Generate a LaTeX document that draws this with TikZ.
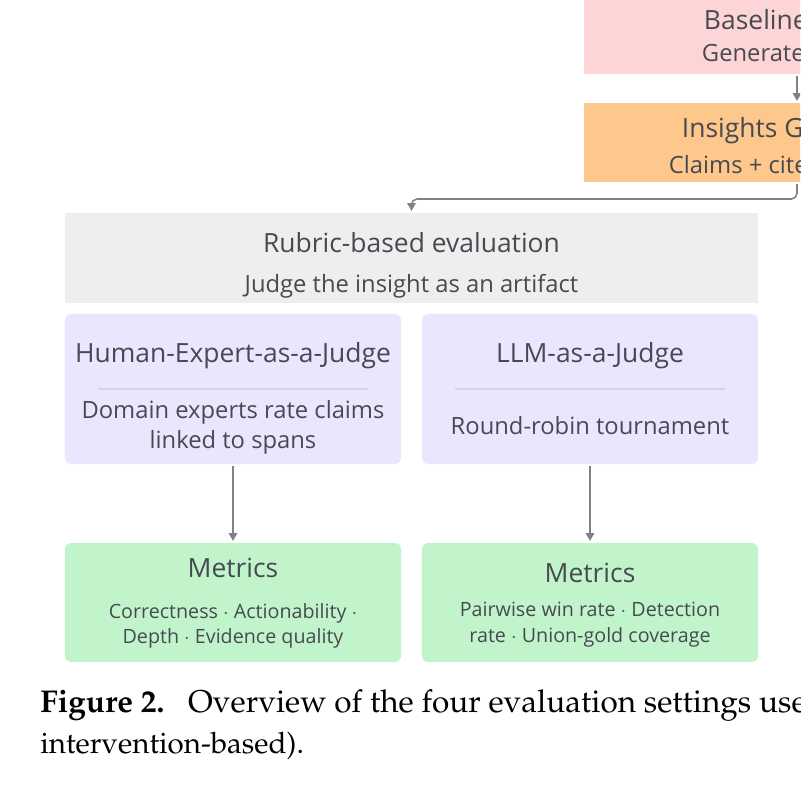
\documentclass[tikz,border=0pt]{standalone}
\usepackage[T1,TU]{fontenc}
\usepackage{fontspec}
\setmainfont{Open Sans}
\usetikzlibrary{positioning,arrows.meta,calc}
\definecolor{ink}{HTML}{464A51}
\definecolor{wire}{HTML}{7E8189}
\definecolor{pinkLite}{HTML}{FDD5D6}
\definecolor{orangeLite}{HTML}{FEC78B}
\definecolor{greyLite}{HTML}{EEEEEE}
\definecolor{lilacLite}{HTML}{EAE6FD}
\definecolor{mintLite}{HTML}{C2F4CB}
\definecolor{rule}{HTML}{D6D4E0}
\newcommand{\capfont}{\fontencoding{T1}\fontfamily{ppl}\selectfont}

\begin{document}
\begin{tikzpicture}[x=0.025cm,y=-0.025cm,
    panel/.style={inner sep=0pt,outer sep=1.5pt,draw=none},
    card/.style={panel,rounded corners=4pt,minimum width=8.4cm},
    ttl/.style={text=ink,font=\fontsize{18.8}{22}\selectfont},
    sub/.style={text=ink,font=\fontsize{16.9}{21.3}\selectfont,align=center},
    small/.style={text=ink,font=\fontsize{14}{18.3}\selectfont,align=center},
    arr/.style={draw=wire,line width=1.1pt,-{Triangle[length=5.5pt,width=6pt]}},
    sep/.style={draw=rule,line width=1pt}]
    \useasboundingbox (0,0) rectangle (800,800);
    \clip (0,0) rectangle (800,800);
    % top pipeline
    \node[panel,fill=pinkLite,minimum width=10.65cm,minimum height=2.35cm] (base) at (797,27) {};
    \node[panel,fill=orangeLite,minimum width=10.65cm,minimum height=1.975cm] (ins) at (797,142.5) {};
    \node[ttl,anchor=west] at (699,20) {Baseline};
    \node[sub,anchor=west] at (697,53) {Generate};
    \node[ttl,anchor=west] at (677,131) {Insights G};
    \node[sub,anchor=west] at (664,165) {Claims + cite};
    \draw[arr] (base) -- (ins);
    % rubric block
    \node[panel,fill=greyLite,minimum width=17.325cm,minimum height=2.25cm] (rub) at (411.5,258) {};
    \node[ttl] at ($(rub.center)+(0,-15)$) {Rubric-based evaluation};
    \node[sub] at ($(rub.center)+(0,28)$) {Judge the insight as an artifact};
    \coordinate (turn) at (411.5,199);
    \draw[arr,rounded corners=4pt] (ins.south) |- (turn) -- (rub.north);
    % judges
    \node[card,fill=lilacLite,minimum height=3.75cm] (hum) at (233,389) {};
    \node[card,fill=lilacLite,minimum height=3.75cm] (llm) at (590,389) {};
    \draw[sep] ($(hum.west)+(35,0)$) -- ($(hum.east)+(-35,0)$);
    \draw[sep] ($(llm.west)+(35,0)$) -- ($(llm.east)+(-35,0)$);
    \node[ttl] at ($(hum.center)+(0,-33)$) {Human-Expert-as-a-Judge};
    \node[sub] at ($(hum.center)+(0,38)$) {Domain experts rate claims\\linked to spans};
    \node[ttl] at ($(llm.center)+(0,-33)$) {LLM-as-a-Judge};
    \node[sub] at ($(llm.center)+(0,37)$) {Round-robin tournament};
    % metrics
    \node[card,fill=mintLite,minimum height=2.975cm] (metH) at (233,602.5) {};
    \node[card,fill=mintLite,minimum height=2.975cm] (metL) at (590,602.5) {};
    \node[ttl] at ($(metH.center)+(0,-35)$) {Metrics};
    \node[small] at ($(metH.center)+(0,23.5)$) {Correctness $\cdot$ Actionability $\cdot$\\Depth $\cdot$ Evidence quality};
    \node[ttl] at ($(metL.center)+(0,-30)$) {Metrics};
    \node[small] at ($(metL.center)+(0,22.5)$) {Pairwise win rate $\cdot$ Detection\\rate $\cdot$ Union-gold coverage};
    \draw[arr] (hum) -- (metH);
    \draw[arr] (llm) -- (metL);
    % caption
    \node[anchor=base west,inner sep=0pt,font=\capfont\fontsize{22.4}{29.5}\selectfont] (cap) at (40,712)
      {\textbf{Figure 2.}\enspace\ Overview of the four evaluation settings use};
    \node[anchor=base west,inner sep=0pt,font=\capfont\fontsize{21}{29.5}\selectfont] (capb) at (40,753)
      {intervention-based).};
\end{tikzpicture}
\end{document}
